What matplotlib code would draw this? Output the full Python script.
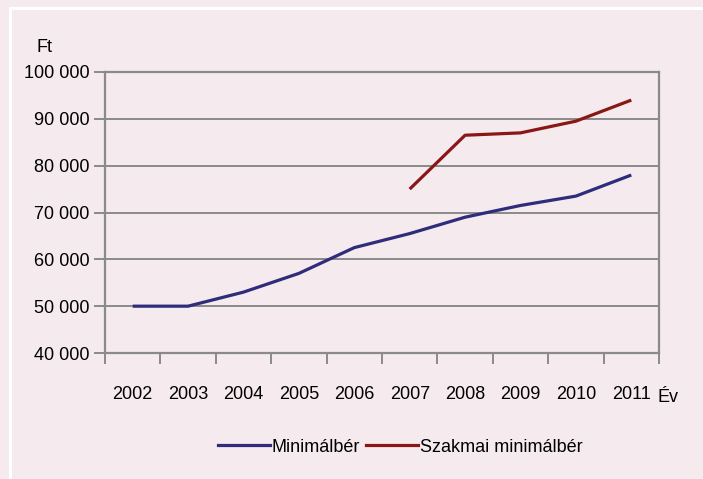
import numpy as np
import matplotlib.pyplot as plt
from matplotlib.lines import Line2D

# adatok
evek = ['2002', '2003', '2004', '2005', '2006', '2007', '2008', '2009', '2010', '2011']
minimalber = [50000, 50000, 53000, 57000, 62500, 65500, 69000, 71500, 73500, 78000]
szakmai_evek = ['2007', '2008', '2009', '2010', '2011']
szakmai = [75000, 86500, 87000, 89500, 94000]

bg = '#f5eaee'
kek = '#2f2c7c'
piros = '#8a1616'
szurke = '#8a8a8a'

plt.rcParams['font.family'] = ['Liberation Sans Narrow', 'Liberation Sans', 'DejaVu Sans']
fs = 13

fig = plt.figure(figsize=(7.03, 4.79), dpi=100, facecolor=bg)
# feher keret bal/felso oldalon
kx, ky = 9.5 / 703, 1 - 7.5 / 479
fig.add_artist(Line2D([kx, kx], [0, ky], transform=fig.transFigure, color='white', lw=2.2))
fig.add_artist(Line2D([kx, 1], [ky, ky], transform=fig.transFigure, color='white', lw=2.2))

ax = fig.add_axes([105/703, 1 - 353/479, 554/703, 281/479])
ax.set_facecolor(bg)

x = np.arange(len(evek))
xs = [evek.index(e) for e in szakmai_evek]
ax.plot(x, minimalber, color=kek, lw=2.3, solid_capstyle='butt', zorder=3)
ax.plot(xs, szakmai, color=piros, lw=2.3, solid_capstyle='butt', zorder=3)

ax.set_xlim(-0.5, len(evek) - 0.5)
ax.set_ylim(40000, 100000)
yt = np.arange(40000, 100001, 10000)
ax.set_yticks(yt)
ax.set_yticklabels([f'{v:,}'.replace(',', ' ') for v in yt], fontsize=fs)
ax.yaxis.grid(True, color=szurke, lw=1.4)
ax.set_axisbelow(True)

ax.set_xticks(np.arange(-0.5, len(evek), 1.0))
ax.set_xticklabels([])
ax.set_xticks(x, minor=True)
ax.set_xticklabels(evek, minor=True, fontsize=fs)
ax.tick_params(axis='x', which='major', length=8, width=1.4, color=szurke, direction='out')
ax.tick_params(axis='x', which='minor', length=0, pad=24)
ax.tick_params(axis='y', length=8, width=1.4, color=szurke, direction='out', pad=3)

for s in ax.spines.values():
    s.set_color(szurke)
    s.set_linewidth(1.6)

fig.text(45/703, 1 - 47/479, 'Ft', fontsize=fs, ha='center', va='center')
fig.text(668/703, 1 - 397/479, 'Év', fontsize=fs, ha='center', va='center')

handles = [Line2D([], [], color=kek, lw=2.3), Line2D([], [], color=piros, lw=2.3)]
fig.legend(handles, ['Minimálbér', 'Szakmai minimálbér'], loc='center',
           bbox_to_anchor=(400/703, 1 - 447/479), ncol=2, frameon=False, fontsize=fs,
           handlelength=2.9, handletextpad=0.1, columnspacing=0.3)

fig.savefig('out.png', dpi=100, facecolor=bg)
